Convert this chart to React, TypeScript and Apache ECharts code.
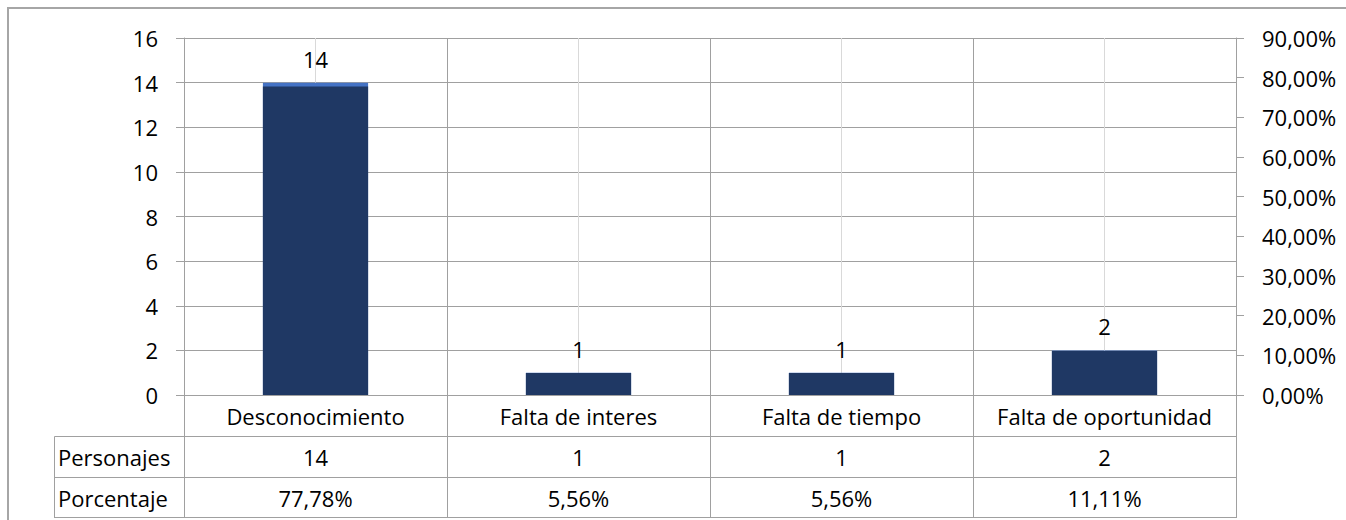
import React, { useEffect, useRef } from "react";
import * as echarts from "echarts";

const categories = ["Desconocimiento", "Falta de interes", "Falta de tiempo", "Falta de oportunidad"];
const personajes = [14, 1, 1, 2];
const porcentaje = [0.7778, 0.0556, 0.0556, 0.1111];
const rowLabels = ["Personajes", "Porcentaje"];
const leftMax = 16;
const leftInterval = 2;
const rightMax = 0.9;
const rightInterval = 0.1;

const FONT = "'Open Sans', sans-serif";
const FS = 22;
const GRID = "#a0a0a0";

const fmtPct = (v: number) => (v * 100).toFixed(2).replace(".", ",") + "%";

export default function App() {
  const ref = useRef<HTMLDivElement>(null);
  useEffect(() => {
    document.body.style.margin = "0";
    document.body.style.overflow = "hidden";
    const chart = echarts.init(ref.current!, null, { renderer: "svg" });
    const W = 1346, H = 520;
    const gl = 184, gr = 1236, gt = 38, gb = 395;
    const rowH = 41;
    const tableLeft = 54.5;
    const graphic: any[] = [
      {
        type: "rect",
        shape: { x: 8, y: 8, width: 2000, height: 2000 },
        style: { fill: "none", stroke: "#a6a6a6", lineWidth: 2 },
        silent: true,
      },
      {
        type: "line",
        shape: { x1: tableLeft, y1: gb + rowH + 0.5, x2: tableLeft, y2: gb + 3 * rowH },
        style: { stroke: GRID, lineWidth: 1 },
      },
    ];
    for (let r = 1; r <= 3; r++) {
      const y = gb + r * rowH + 0.5 - (r === 3 ? 1 : 0);
      graphic.push({
        type: "line",
        shape: { x1: tableLeft, y1: y, x2: gr, y2: y },
        style: { stroke: GRID, lineWidth: 1 },
      });
    }
    rowLabels.forEach((t, i) => {
      graphic.push({
        type: "text",
        x: 58,
        y: gb + (i + 1) * rowH + rowH / 2,
        style: {
          text: t,
          fontFamily: FONT,
          fontSize: FS,
          fill: "#000",
          textVerticalAlign: "middle",
          textAlign: "left",
        },
      });
    });
    chart.setOption({
      animation: false,
      grid: { left: gl, right: W - gr, top: gt, bottom: H - gb, containLabel: false },
      xAxis: {
        type: "category",
        data: categories,
        axisLine: { show: true, lineStyle: { color: GRID, width: 1 } },
        axisTick: { show: true, interval: 0, length: 3 * rowH, lineStyle: { color: GRID, width: 1 } },
        splitLine: { show: true, interval: 0, lineStyle: { color: GRID, width: 1 } },
        axisLabel: {
          interval: 0,
          margin: 0,
          color: "#000",
          fontFamily: FONT,
          fontSize: FS,
          lineHeight: rowH,
          formatter: (v: string, i: number) => `${v}\n${personajes[i]}\n${fmtPct(porcentaje[i])}`,
        },
      },
      yAxis: [
        {
          type: "value",
          min: 0,
          max: leftMax,
          interval: leftInterval,
          axisLine: { show: true, lineStyle: { color: GRID, width: 1 } },
          axisTick: { show: true, length: 8, lineStyle: { color: GRID, width: 1 } },
          splitLine: { show: true, lineStyle: { color: GRID, width: 1 } },
          axisLabel: { color: "#000", fontFamily: FONT, fontSize: FS, margin: 26 },
        },
        {
          type: "value",
          position: "right",
          min: 0,
          max: rightMax,
          interval: rightInterval,
          axisLine: { show: true, lineStyle: { color: GRID, width: 1 } },
          axisTick: { show: true, length: 8, lineStyle: { color: GRID, width: 1 } },
          splitLine: { show: false },
          axisLabel: {
            color: "#000",
            fontFamily: FONT,
            fontSize: FS,
            margin: 26,
            formatter: (v: number) => fmtPct(v),
          },
        },
      ],
      series: [
        {
          name: "Personajes",
          type: "bar",
          yAxisIndex: 0,
          data: personajes,
          barWidth: "40%",
          barGap: "-100%",
          itemStyle: { color: "#4472C4" },
          label: {
            show: true,
            position: "top",
            distance: 13,
            color: "#000",
            fontFamily: FONT,
            fontSize: FS,
          },
          markLine: {
            silent: true,
            z: 1,
            symbol: ["none", "none"],
            label: { show: false },
            lineStyle: { color: "#d9d9d9", type: "solid", width: 1 },
            data: categories.map((c) => ({ xAxis: c })),
          },
        },
        {
          name: "Porcentaje",
          type: "bar",
          yAxisIndex: 1,
          data: porcentaje,
          barWidth: "40%",
          barGap: "-100%",
          itemStyle: { color: "#1F3864" },
        },
      ],
      graphic,
    });
    return () => chart.dispose();
  }, []);
  return <div ref={ref} style={{ width: 1346, height: 520 }} />;
}
